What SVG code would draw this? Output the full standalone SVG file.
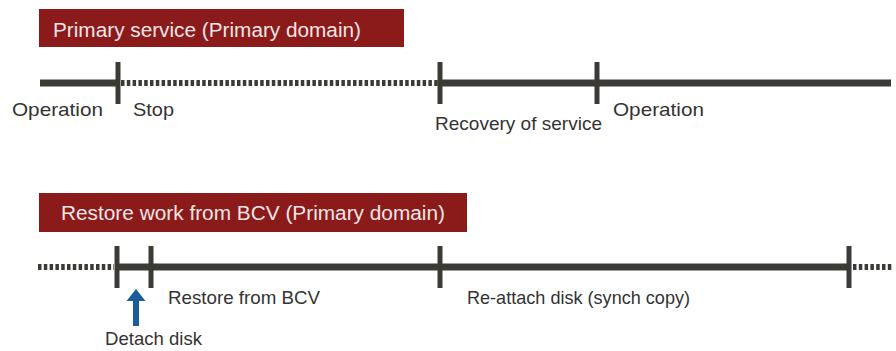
<svg xmlns="http://www.w3.org/2000/svg" width="896" height="351" viewBox="0 0 896 351">
<style>
.banner{fill:#8b1a1b}
.bt{font-family:"Liberation Sans",Arial,sans-serif;font-size:20px;fill:#f3e6e6}
.lbl{font-family:"Liberation Sans",Arial,sans-serif;font-size:19px;fill:#333333}
.solid{stroke:#3b3a34;stroke-width:7;fill:none}
.dot{stroke:#3b3a34;stroke-width:6;fill:none;stroke-dasharray:3.5 2.3}
.tick{stroke:#3b3a34;stroke-width:5;fill:none}
.arrow{fill:#1d5c9a}
</style>
<rect width="896" height="351" fill="#ffffff"/>
<g id="banner-primary">
<rect class="banner" x="39" y="9" width="365" height="38"/>
<text class="bt" x="53" y="36.5" textLength="308" lengthAdjust="spacingAndGlyphs">Primary service (Primary domain)</text>
</g>
<g id="banner-restore">
<rect class="banner" x="39" y="193" width="428" height="39"/>
<text class="bt" x="61" y="220" textLength="384" lengthAdjust="spacingAndGlyphs">Restore work from BCV (Primary domain)</text>
</g>
<g id="connectors">
<line class="solid" x1="40" y1="83" x2="118" y2="83"/>
<line class="dot" x1="121" y1="83" x2="439" y2="83"/>
<line class="solid" x1="440" y1="83" x2="891" y2="83"/>
<line class="tick" x1="118" y1="62" x2="118" y2="104"/>
<line class="tick" x1="440" y1="62" x2="440" y2="104"/>
<line class="tick" x1="597" y1="62" x2="597" y2="104"/>
<line class="dot" x1="38" y1="267" x2="114" y2="267"/>
<line class="solid" x1="116" y1="267" x2="850" y2="267"/>
<line class="dot" x1="853" y1="267" x2="892" y2="267"/>
<line class="tick" x1="117" y1="246" x2="117" y2="288"/>
<line class="tick" x1="151" y1="246" x2="151" y2="288"/>
<line class="tick" x1="440" y1="246" x2="440" y2="288"/>
<line class="tick" x1="849" y1="246" x2="849" y2="288"/>
<polygon class="arrow" points="136,289 145.5,301 139,301 139,326 133,326 133,301 126.5,301"/>
</g>
<g id="label-operation1"><text class="lbl" x="12" y="115.5" font-size="20" textLength="91" lengthAdjust="spacingAndGlyphs">Operation</text></g>
<g id="label-stop"><text class="lbl" x="133" y="115.5" font-size="20" textLength="41" lengthAdjust="spacingAndGlyphs">Stop</text></g>
<g id="label-recovery"><text class="lbl" x="435" y="130" textLength="167" lengthAdjust="spacingAndGlyphs">Recovery of service</text></g>
<g id="label-operation2"><text class="lbl" x="613" y="115.5" font-size="20" textLength="91" lengthAdjust="spacingAndGlyphs">Operation</text></g>
<g id="label-restore"><text class="lbl" x="168" y="303.5" textLength="152" lengthAdjust="spacingAndGlyphs">Restore from BCV</text></g>
<g id="label-reattach"><text class="lbl" x="467" y="303.5" textLength="223" lengthAdjust="spacingAndGlyphs">Re-attach disk (synch copy)</text></g>
<g id="label-detach"><text class="lbl" x="105" y="345" textLength="97" lengthAdjust="spacingAndGlyphs">Detach disk</text></g>
</svg>
